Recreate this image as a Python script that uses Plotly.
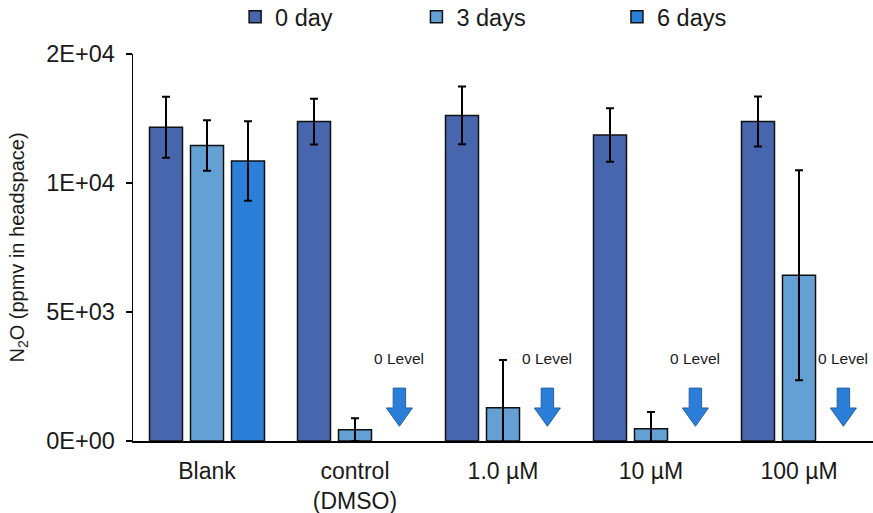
import plotly.graph_objects as go

categories = ["Blank", "control<br>(DMSO)", "1.0 µM", "10 µM", "100 µM"]
series_names = ["0 day", "3 days", "6 days"]
day0 = [12160, 12380, 12620, 11860, 12380]
day0_err = [1180, 890, 1120, 1040, 970]
day3 = [11450, 440, 1290, 470, 6420]
day3_err = [980, 440, 1850, 650, 4070]
day6 = [10850, None, None, None, None]
day6_err = [1540, None, None, None, None]
colors = ["#4866AE", "#64A0D3", "#2B7FD9"]

zero_level_groups = [1, 2, 3, 4]
zero_label = "0 Level"

tick_vals = [0, 5000, 10000, 15000]
tick_text = ["0E+00", "5E+03", "1E+04", "2E+04"]

FONT = "Arial, Liberation Sans, sans-serif"
TXT = "#1a1a1a"

legend_ids = ["legend", "legend2", "legend3"]
legend_x = [0.138, 0.383, 0.654]

fig = go.Figure()
for name, vals, errs, col, lid in zip(series_names, [day0, day3, day6],
                                      [day0_err, day3_err, day6_err], colors, legend_ids):
    fig.add_trace(go.Bar(
        x=categories, y=vals, name=name, legend=lid,
        marker=dict(color=col, line=dict(color="#111111", width=1.5)),
        error_y=dict(type="data", array=errs, visible=True,
                     color="#000000", thickness=2, width=4),
    ))

# block arrows + labels marking "0 Level" for the missing 6-day bars
off = 0.30       # position of 6-day slot (category units)
hw_head = 0.088  # half width of arrow head (category units)
hw_shaft = 0.042
y_top, y_neck, y_tip = 2050, 1280, 570
for g in zero_level_groups:
    cx = g + off
    path = (f"M {cx-hw_shaft},{y_top} L {cx+hw_shaft},{y_top} "
            f"L {cx+hw_shaft},{y_neck} L {cx+hw_head},{y_neck} "
            f"L {cx},{y_tip} L {cx-hw_head},{y_neck} "
            f"L {cx-hw_shaft},{y_neck} Z")
    fig.add_shape(type="path", path=path, xref="x", yref="y",
                  fillcolor="#2B7ED8", line=dict(color="#2660A8", width=1))
    fig.add_annotation(x=cx, y=3200, xref="x", yref="y", text=zero_label,
                       showarrow=False, font=dict(size=15.5, color=TXT, family=FONT))

leg_common = dict(orientation="h", xanchor="left", y=1.0956, yanchor="middle",
                  font=dict(size=23.5, family=FONT, color=TXT),
                  itemwidth=30, bgcolor="rgba(0,0,0,0)", borderwidth=0)
layout_legends = {lid: dict(x=lx, **leg_common) for lid, lx in zip(legend_ids, legend_x)}

fig.update_layout(
    width=873, height=513,
    margin=dict(l=133, r=0, t=54, b=72, autoexpand=False),
    paper_bgcolor="white", plot_bgcolor="white",
    barmode="group", bargap=0.169, bargroupgap=0.195,
    font=dict(family=FONT, color=TXT),
    showlegend=True,
    **layout_legends,
)
fig.update_xaxes(
    showline=True, linecolor="#000000", linewidth=1.5,
    ticks="", tickfont=dict(size=23, family=FONT, color=TXT),
    ticklabelstandoff=9, range=[-0.5, 4.5], showgrid=False, automargin=False,
)
fig.update_yaxes(
    range=[0, 15000], tickvals=tick_vals, ticktext=tick_text,
    showline=True, linecolor="#000000", linewidth=1.5,
    ticks="outside", ticklen=6, tickcolor="#000000", tickwidth=1.5,
    tickfont=dict(size=23.5, family=FONT, color=TXT),
    ticklabelstandoff=6, showgrid=False, zeroline=False, automargin=False,
    title=dict(text="N<sub>2</sub>O (ppmv in headspace)",
               font=dict(size=20, family=FONT, color=TXT), standoff=16),
)

fig.write_html("out.html",
               config={"displayModeBar": False, "staticPlot": True},
               post_script="document.body.style.margin='0';document.body.style.overflow='hidden';")
